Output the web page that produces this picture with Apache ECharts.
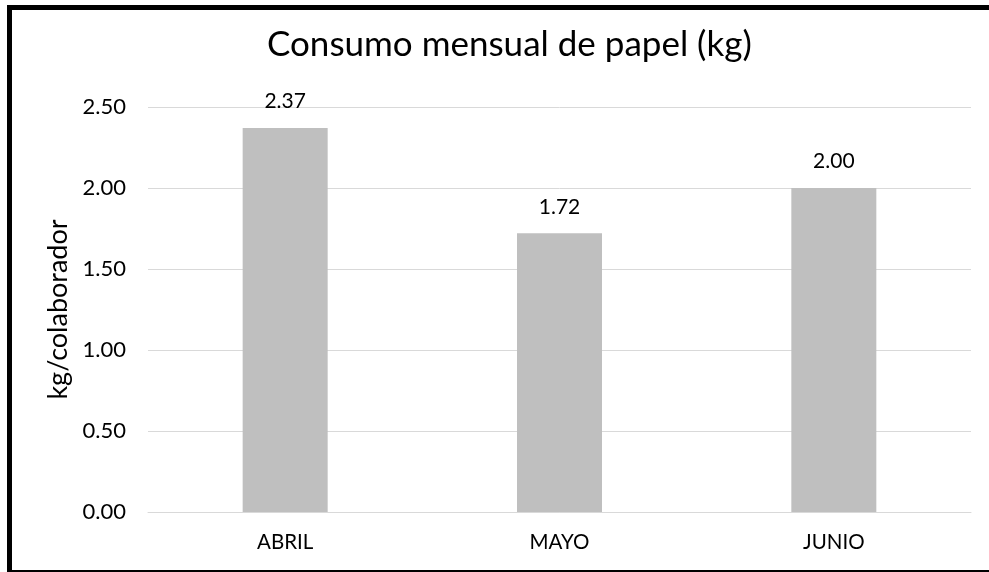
<!DOCTYPE html>
<html>
<head>
<meta charset="utf-8">
<script src="https://cdn.jsdelivr.net/npm/echarts@6/dist/echarts.min.js"></script>
<style>
html,body{margin:0;padding:0;background:#fff;overflow:hidden;}
#c{width:989px;height:572px;}
</style>
</head>
<body>
<div id="c"></div>
<script>
const categories = ["ABRIL", "MAYO", "JUNIO"];
const values = [2.37, 1.72, 2.00];
const yTicks = [0, 0.5, 1.0, 1.5, 2.0, 2.5];
const titleText = "Consumo mensual de papel (kg)";
const yAxisName = "kg/colaborador";

const FONT = "Lato";
const chart = echarts.init(document.getElementById('c'));
chart.setOption({
  animation: false,
  backgroundColor: '#fff',
  title: {
    text: titleText,
    left: 262,
    top: 22,
    textStyle: {fontFamily: FONT, fontSize: 35, fontWeight: 'normal', color: '#000'}
  },
  grid: {left: 148, right: 18, top: 107, bottom: 60},
  xAxis: {
    type: 'category',
    data: categories,
    axisTick: {show: false},
    axisLine: {show: true, lineStyle: {color: '#D9D9D9', width: 1}},
    axisLabel: {fontFamily: FONT, fontSize: 20.5, color: '#000', margin: 20}
  },
  yAxis: {
    type: 'value',
    min: yTicks[0],
    max: yTicks[yTicks.length - 1],
    interval: 0.5,
    name: yAxisName,
    nameLocation: 'middle',
    nameGap: 69,
    nameRotate: 90,
    nameTextStyle: {fontFamily: FONT, fontSize: 27, color: '#000'},
    axisLine: {show: false},
    axisTick: {show: false},
    splitLine: {lineStyle: {color: '#D9D9D9', width: 1}},
    axisLabel: {fontFamily: FONT, fontSize: 22, color: '#000', margin: 22,
      formatter: v => v.toFixed(2)}
  },
  series: [{
    type: 'bar',
    data: values,
    barWidth: 85,
    itemStyle: {color: '#BFBFBF'},
    label: {show: true, position: 'top', distance: 16, fontFamily: FONT, fontSize: 21, color: '#000',
      formatter: p => p.value.toFixed(2)}
  }],
  graphic: [
    {type: 'rect', shape: {x: 7, y: 5, width: 982, height: 5}, style: {fill: '#000'}, silent: true, z: 100},
    {type: 'rect', shape: {x: 7, y: 5, width: 5, height: 567}, style: {fill: '#000'}, silent: true, z: 100},
    {type: 'rect', shape: {x: 7, y: 570, width: 982, height: 2}, style: {fill: '#000'}, silent: true, z: 100}
  ]
});
</script>
</body>
</html>
